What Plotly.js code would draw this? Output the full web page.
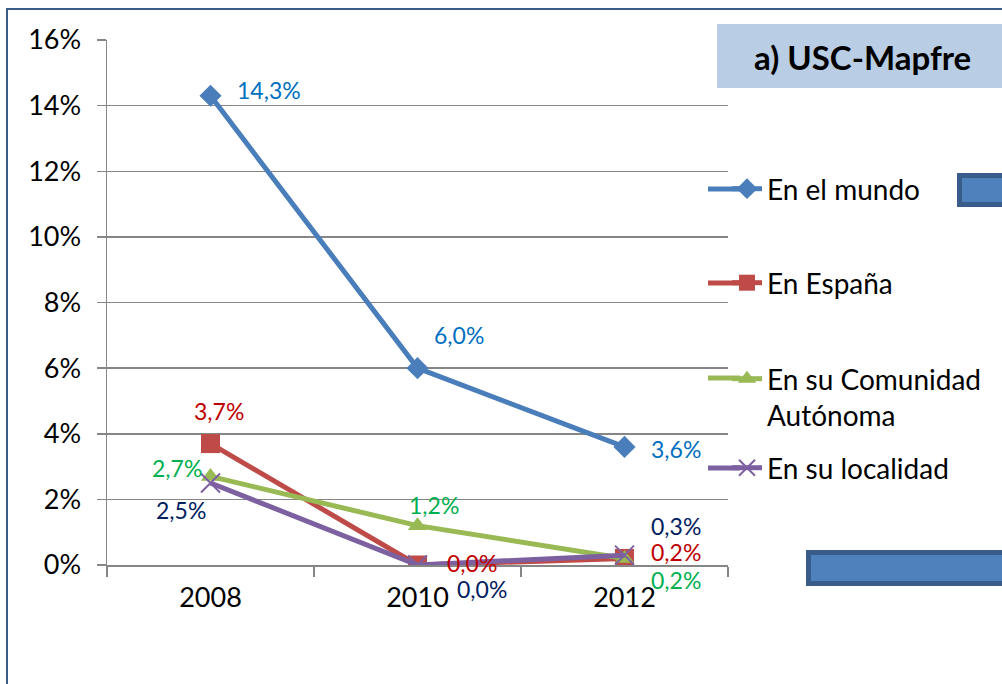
<!DOCTYPE html>
<html>
<head>
<meta charset="utf-8">
<script src="https://cdn.plot.ly/plotly-3.0.1.min.js"></script>
<style>html,body{margin:0;padding:0;background:#fff;}#chart{width:1002px;height:684px;}</style>
</head>
<body>
<div id="chart"></div>
<script>
// ---- data ----
const years = ['2008', '2010', '2012'];
const seriesNames = ['En el mundo', 'En España', 'En su Comunidad<br>Autónoma', 'En su localidad'];
const mundo = [14.3, 6.0, 3.6];
const espana = [3.7, 0.0, 0.2];
const comunidad = [2.7, 1.2, 0.2];
const localidad = [2.5, 0.0, 0.3];
const yTicks = [0, 2, 4, 6, 8, 10, 12, 14, 16];
const chartTitle = 'a) USC-Mapfre';

// ---- styles ----
const FONT = 'Lato, "Open Sans", sans-serif';
const lineColors = ['#4a7ebb', '#be4b48', '#98b954', '#7d60a0'];
const labelColors = ['#0070c0', '#c00000', '#00b050', '#002060'];
const symbols = ['diamond', 'square', 'triangle-up', 'x-thin'];
const msizes = [17, 19, 17, 19];
const allSeries = [mundo, espana, comunidad, localidad];

// label offsets [xanchor, xshift, yshift] per series / point
const labelPos = [
  [['left', 24, 6], ['left', 14, 33], ['left', 24, -2]],
  [['center', 8, 33], ['left', 27, 2], ['left', 24, 6]],
  [['right', -7, 8], ['center', 16, 21], ['left', 24, -22]],
  [['right', -3, -27], ['left', 37, -24], ['left', 24, 29]]
];

const fmt = v => v.toFixed(1).replace('.', ',') + '%';

// plot area pixels
const L = 107, R = 728, T = 40, B = 565;
const px = x => (x - L) / (R - L);
const py = y => (B - y) / (B - T);

const legendY = [189, 283, 378, 468];

const traces = allSeries.map((vals, i) => ({
  type: 'scatter', mode: 'lines+markers',
  x: years, y: vals, name: seriesNames[i],
  legend: i === 0 ? 'legend' : 'legend' + (i + 1),
  line: {color: lineColors[i], width: 5},
  marker: {symbol: symbols[i], size: msizes[i], color: lineColors[i],
           line: {color: lineColors[i], width: i === 3 ? 2 : 0}},
  hoverinfo: 'skip'
}));

const annotations = [];
allSeries.forEach((vals, i) => {
  vals.forEach((v, j) => {
    const p = labelPos[i][j];
    annotations.push({
      x: j, y: v, xref: 'x', yref: 'y', text: fmt(v), showarrow: false,
      xanchor: p[0], yanchor: 'middle', xshift: p[1], yshift: p[2],
      font: {family: FONT, size: 23, color: labelColors[i]}
    });
  });
});
annotations.push({
  xref: 'paper', yref: 'paper', x: px(862), y: py(57), text: '<b>' + chartTitle + '</b>',
  showarrow: false, xanchor: 'center', yanchor: 'middle',
  font: {family: FONT, size: 33, color: '#000'}
});

const shapes = [
  {type: 'rect', xref: 'paper', yref: 'paper', x0: px(7), x1: px(1010), y0: py(700), y1: py(9),
   line: {color: '#385d8a', width: 2}, fillcolor: 'rgba(0,0,0,0)', layer: 'above'},
  {type: 'rect', xref: 'paper', yref: 'paper', x0: px(717), x1: px(1010), y0: py(88), y1: py(24),
   line: {width: 0}, fillcolor: '#b9cde5', layer: 'above'},
  {type: 'rect', xref: 'paper', yref: 'paper', x0: px(959.5), x1: px(1012), y0: py(204.5), y1: py(175.5),
   line: {color: '#385d8a', width: 5}, fillcolor: '#4f81bd', layer: 'above'},
  {type: 'rect', xref: 'paper', yref: 'paper', x0: px(808.5), x1: px(1012), y0: py(583.5), y1: py(552.5),
   line: {color: '#385d8a', width: 5}, fillcolor: '#4f81bd', layer: 'above'}
];
// extend legend sample lines to the left (legend line is short in plotly)
legendY.forEach((yy, i) => {
  shapes.push({type: 'line', xref: 'paper', yref: 'paper', x0: px(708), x1: px(740),
    y0: py(yy), y1: py(yy), line: {color: lineColors[i], width: 5}, layer: 'above'});
});

const layout = {
  width: 1002, height: 684,
  margin: {l: L, r: 1002 - R, t: T, b: 684 - B, pad: 0},
  paper_bgcolor: '#fff', plot_bgcolor: '#fff',
  font: {family: FONT, color: '#000'},
  showlegend: true,
  xaxis: {
    type: 'category', range: [-0.5, 2.5], tickson: 'boundaries',
    ticks: 'outside', ticklen: 10, tickwidth: 1.5, tickcolor: '#868686',
    showline: true, linecolor: '#868686', linewidth: 1.5,
    showgrid: false, zeroline: false, fixedrange: true,
    tickfont: {family: FONT, size: 27, color: '#000'}, ticklabelstandoff: 8
  },
  yaxis: {
    range: [0, 16], tickvals: yTicks, ticktext: yTicks.map(v => v + '%'),
    ticks: 'outside', ticklen: 9, tickwidth: 1.5, tickcolor: '#868686',
    showline: true, linecolor: '#868686', linewidth: 1.5,
    showgrid: true, gridcolor: '#868686', gridwidth: 1.5, zeroline: false, fixedrange: true,
    tickfont: {family: FONT, size: 27, color: '#000'}, ticklabelstandoff: 10
  },
  annotations: annotations,
  shapes: shapes
};
const legendBase = {
  xanchor: 'left', yanchor: 'middle', bgcolor: 'rgba(0,0,0,0)', borderwidth: 0,
  font: {family: FONT, size: 28, color: '#000'}, valign: 'top', itemclick: false, itemdoubleclick: false
};
['legend', 'legend2', 'legend3', 'legend4'].forEach((k, i) => {
  layout[k] = Object.assign({}, legendBase, {x: px(727), y: py(i === 2 ? 397 : legendY[i])});
});

Plotly.newPlot('chart', traces, layout, {staticPlot: true, displayModeBar: false});
</script>
</body>
</html>
